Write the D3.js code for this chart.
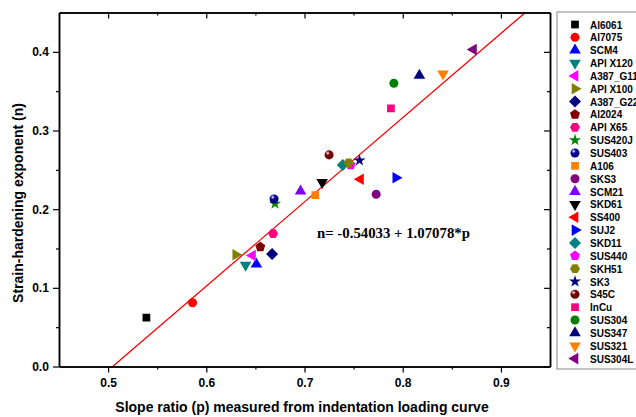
<!DOCTYPE html>
<html>
<head>
<meta charset="utf-8">
<script src="https://cdn.jsdelivr.net/npm/d3@7"></script>
<style>
body { margin: 0; background: #fff; }
text { font-family: "Liberation Sans", Arial, sans-serif; font-weight: bold; }
</style>
</head>
<body>
<script>
// materials, slope ratio p, strain-hardening exponent n
var names = ['Al6061', 'Al7075', 'SCM4', 'API X120', 'A387_G11', 'API X100', 'A387_G22', 'Al2024', 'API X65',
  'SUS420J', 'SUS403', 'A106', 'SKS3', 'SCM21', 'SKD61', 'SS400', 'SUJ2', 'SKD11', 'SUS440', 'SKH51',
  'SK3', 'S45C', 'InCu', 'SUS304', 'SUS347', 'SUS321', 'SUS304L'];
var pVals = [0.539, 0.586, 0.651, 0.640, 0.647, 0.630, 0.667, 0.655, 0.668,
  0.670, 0.669, 0.711, 0.773, 0.696, 0.718, 0.757, 0.793, 0.739, 0.747, 0.745,
  0.756, 0.725, 0.788, 0.791, 0.817, 0.841, 0.872];
var nVals = [0.062, 0.081, 0.130, 0.129, 0.141, 0.142, 0.143, 0.152, 0.169,
  0.207, 0.213, 0.218, 0.219, 0.223, 0.234, 0.238, 0.240, 0.256, 0.256, 0.259,
  0.262, 0.269, 0.328, 0.360, 0.370, 0.372, 0.403];
var shapes = ['square', 'circle', 'up', 'down', 'left', 'right', 'diamond', 'pentagon', 'hexagon',
  'star', 'sphere', 'square', 'circle', 'up', 'down', 'left', 'right', 'diamond', 'pentagon', 'hexagon',
  'star', 'sphere', 'square', 'circle', 'up', 'down', 'left'];
var colors = ['#000000', '#ff0000', '#0000ff', '#008080', '#ff00ff', '#808000', '#000080', '#800000', '#ff0080',
  '#008000', '#0000a0', '#ff8000', '#800080', '#8000ff', '#000000', '#ff0000', '#0000ff', '#008080', '#ff00ff', '#808000',
  '#000080', '#800000', '#ff0080', '#008000', '#000080', '#ff8000', '#800080'];

var fitA = -0.54033, fitB = 1.07078;
var xTicks = [0.5, 0.6, 0.7, 0.8, 0.9];
var xMinor = [0.55, 0.65, 0.75, 0.85];
var yTicks = [0.0, 0.1, 0.2, 0.3, 0.4];
var yMinor = [0.05, 0.15, 0.25, 0.35];

var W = 636, H = 417;
var m = {left: 59, top: 12.5, right: 550, bottom: 366.5};

var svg = d3.select("body").append("svg").attr("width", W).attr("height", H);

var x = d3.scaleLinear().domain([0.45, 0.95]).range([m.left, m.right]);
var y = d3.scaleLinear().domain([0, 0.45]).range([m.bottom, m.top]);

var defs = svg.append("defs");
var clip = defs.append("clipPath").attr("id", "plot");
clip.append("rect").attr("x", m.left).attr("y", m.top)
  .attr("width", m.right - m.left).attr("height", m.bottom - m.top);

function sphereGrad(id, c) {
  var g = defs.append("radialGradient").attr("id", id)
    .attr("cx", "35%").attr("cy", "30%").attr("r", "70%");
  g.append("stop").attr("offset", "0%").attr("stop-color", "#ffffff");
  g.append("stop").attr("offset", "35%").attr("stop-color", c);
  g.append("stop").attr("offset", "100%").attr("stop-color", d3.color(c).darker(1));
}

function polygon(n, r, rot) {
  var pts = [];
  for (var k = 0; k < n; k++) {
    var a = rot + k * 2 * Math.PI / n;
    pts.push([r * Math.cos(a), r * Math.sin(a)]);
  }
  return "M" + pts.join("L") + "Z";
}

function markerPath(s) {
  var sym = d3.symbol();
  if (s == 'square') return sym.type(d3.symbolSquare).size(60)();
  if (s == 'circle' || s == 'sphere') return sym.type(d3.symbolCircle).size(64)();
  if (s == 'up' || s == 'down' || s == 'left' || s == 'right') return sym.type(d3.symbolTriangle).size(58)();
  if (s == 'diamond') return polygon(4, 6, 0);
  if (s == 'pentagon') return polygon(5, 5.2, -Math.PI / 2);
  if (s == 'hexagon') return polygon(6, 5, 0);
  if (s == 'star') return sym.type(d3.symbolStar).size(45)();
}
var rotation = {down: 180, left: -90, right: 90};

function drawMarker(g, i, cx, cy) {
  var s = shapes[i];
  var fill = colors[i];
  if (s == 'sphere') {
    var id = "sph" + i;
    sphereGrad(id, colors[i]);
    fill = "url(#" + id + ")";
  }
  g.append("path")
    .attr("d", markerPath(s))
    .attr("fill", fill)
    .attr("transform", "translate(" + cx + "," + cy + ")" + (rotation[s] ? " rotate(" + rotation[s] + ")" : ""));
}

// fit line
var pStart = (0 - fitA) / fitB, pEnd = (0.45 - fitA) / fitB;
svg.append("line")
  .attr("clip-path", "url(#plot)")
  .attr("x1", x(pStart)).attr("y1", y(fitA + fitB * pStart))
  .attr("x2", x(pEnd)).attr("y2", y(fitA + fitB * pEnd))
  .attr("stroke", "#ff0000").attr("stroke-width", 1.3);

// points
var pts = svg.append("g").attr("clip-path", "url(#plot)");
names.forEach(function(d, i) { drawMarker(pts, i, x(pVals[i]), y(nVals[i])); });

// axes
function ax(g, axis, t) {
  var a = svg.append("g").attr("transform", t).call(axis);
  a.select(".domain").attr("stroke", "#000").attr("stroke-width", 1.5);
  a.selectAll(".tick line").attr("stroke", "#000").attr("stroke-width", 1.2);
  return a;
}
var fmt = d3.format(".1f");
var bx = ax(svg, d3.axisBottom(x).tickValues(xTicks).tickFormat(fmt).tickSize(6).tickSizeOuter(0), "translate(0," + m.bottom + ")");
bx.selectAll("text").attr("font-size", 12).attr("font-family", "Liberation Sans").attr("font-weight", "bold").attr("dy", "0.95em");
ax(svg, d3.axisBottom(x).tickValues(xMinor).tickFormat("").tickSize(3).tickSizeOuter(0), "translate(0," + m.bottom + ")");
ax(svg, d3.axisBottom(x).tickValues(xTicks).tickFormat("").tickSize(6).tickSizeOuter(0), "translate(0," + m.top + ")");
ax(svg, d3.axisBottom(x).tickValues(xMinor).tickFormat("").tickSize(3).tickSizeOuter(0), "translate(0," + m.top + ")");

var ly = ax(svg, d3.axisLeft(y).tickValues(yTicks).tickFormat(fmt).tickSize(6).tickSizeOuter(0), "translate(" + m.left + ",0)");
ly.selectAll("text").attr("font-size", 12).attr("font-family", "Liberation Sans").attr("font-weight", "bold").attr("dx", "-0.1em");
ax(svg, d3.axisLeft(y).tickValues(yMinor).tickFormat("").tickSize(3).tickSizeOuter(0), "translate(" + m.left + ",0)");
ax(svg, d3.axisLeft(y).tickValues(yTicks).tickFormat("").tickSize(6).tickSizeOuter(0), "translate(" + m.right + ",0)");
ax(svg, d3.axisLeft(y).tickValues(yMinor).tickFormat("").tickSize(3).tickSizeOuter(0), "translate(" + m.right + ",0)");

// axis titles
svg.append("text")
  .attr("x", 302).attr("y", 412)
  .attr("text-anchor", "middle").attr("font-size", 14)
  .text("Slope ratio (p) measured from indentation loading curve");
svg.append("text")
  .attr("transform", "translate(23,203) rotate(-90)")
  .attr("text-anchor", "middle").attr("font-size", 14)
  .text("Strain-hardening exponent (n)");

// equation
svg.append("text")
  .attr("x", 317).attr("y", 238)
  .style("font-family", "'Liberation Serif', 'Times New Roman', serif")
  .attr("font-size", 14.8)
  .text("n= -0.54033 + 1.07078*p");

// legend
svg.append("rect")
  .attr("x", 557).attr("y", 12).attr("width", 100).attr("height", 357)
  .attr("fill", "none").attr("stroke", "#888").attr("stroke-width", 1);
var leg = svg.append("g");
names.forEach(function(d, i) {
  var ly0 = 24.5 + i * 12.85;
  drawMarker(leg, i, 575, ly0);
  leg.append("text").attr("x", 590).attr("y", ly0 + 4)
    .attr("font-size", 10).text(d);
});
</script>
</body>
</html>
